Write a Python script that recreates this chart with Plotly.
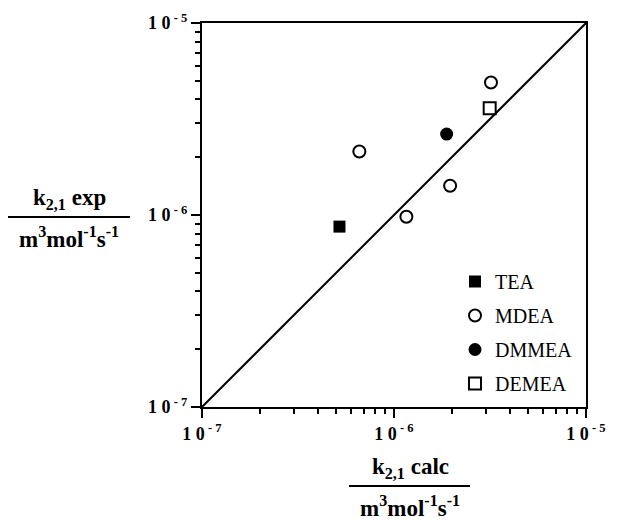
import plotly.graph_objects as go

# Data (k2,1 calc, k2,1 exp) in m3 mol-1 s-1
tea_x = [5.2e-7]
tea_y = [8.7e-7]
mdea_x = [6.6e-7, 1.16e-6, 1.96e-6, 3.2e-6]
mdea_y = [2.14e-6, 9.8e-7, 1.42e-6, 4.9e-6]
dmmea_x = [1.88e-6]
dmmea_y = [2.64e-6]
demea_x = [3.15e-6]
demea_y = [3.6e-6]
parity = [1e-7, 1e-5]

major_vals = [1e-7, 1e-6, 1e-5]
major_text = ["<b>1 0</b><sup><b> - 7</b></sup>", "<b>1 0</b><sup><b> - 6</b></sup>", "<b>1 0</b><sup><b> - 5</b></sup>"]
minor_vals = [m * 10.0 ** e for e in (-7, -6) for m in range(2, 10)]

FONT = "Liberation Serif"

fig = go.Figure()
fig.add_trace(go.Scatter(x=parity, y=parity, mode="lines", line=dict(color="black", width=2),
                         showlegend=False, hoverinfo="skip"))
fig.add_trace(go.Scatter(x=tea_x, y=tea_y, mode="markers", name="TEA", legendgroup="a",
                         marker=dict(symbol="square", size=12, color="black")))
fig.add_trace(go.Scatter(x=mdea_x, y=mdea_y, mode="markers", name="MDEA", legendgroup="b",
                         marker=dict(symbol="circle-open", size=12, color="black", line=dict(width=2))))
fig.add_trace(go.Scatter(x=dmmea_x, y=dmmea_y, mode="markers", name="DMMEA", legendgroup="c",
                         marker=dict(symbol="circle", size=13, color="black")))
fig.add_trace(go.Scatter(x=demea_x, y=demea_y, mode="markers", name="DEMEA", legendgroup="d",
                         marker=dict(symbol="square-open", size=12, color="black", line=dict(width=2))))

L, R, T, B = 202, 31, 23, 113
W, H = 617, 520
pw, ph = W - L - R, H - T - B


def px(xp):
    return (xp - L) / pw


def py(yp):
    return (H - B - yp) / ph


axis_common = dict(
    type="log", range=[-7, -5], showgrid=False, zeroline=False,
    showline=True, linecolor="black", linewidth=2, mirror=True,
    ticks="outside", ticklen=9, tickwidth=2, tickcolor="black",
    tickmode="array", tickvals=major_vals, ticktext=major_text,
    tickfont=dict(family=FONT, size=18, color="black"),
    minor=dict(ticks="outside", ticklen=5, tickwidth=2, tickcolor="black", tickvals=minor_vals),
)
fig.update_xaxes(**axis_common)
fig.update_yaxes(**axis_common)

tfont = dict(family=FONT, size=23, color="black")
ann = [
    dict(x=px(69), y=py(215), text="<b>k<sub>2,1</sub> exp</b>", yanchor="bottom"),
    dict(x=px(69), y=py(221), text="<b>m<sup>3</sup>mol<sup>-1</sup>s<sup>-1</sup></b>", yanchor="top"),
    dict(x=px(410), y=py(484), text="<b>k<sub>2,1</sub> calc</b>", yanchor="bottom"),
    dict(x=px(410), y=py(490), text="<b>m<sup>3</sup>mol<sup>-1</sup>s<sup>-1</sup></b>", yanchor="top"),
]
for a in ann:
    fig.add_annotation(xref="paper", yref="paper", showarrow=False, xanchor="center",
                       font=tfont, **a)

fig.add_shape(type="line", xref="paper", yref="paper", x0=px(8), x1=px(130), y0=py(217), y1=py(217),
              line=dict(color="black", width=2))
fig.add_shape(type="line", xref="paper", yref="paper", x0=px(349), x1=px(470), y0=py(486), y1=py(486),
              line=dict(color="black", width=2))

fig.update_layout(
    width=W, height=H, margin=dict(l=L, r=R, t=T, b=B),
    paper_bgcolor="white", plot_bgcolor="white",
    showlegend=True,
    legend=dict(x=px(455), y=py(262), xanchor="left", yanchor="top",
                font=dict(family=FONT, size=20, color="black"),
                bgcolor="rgba(0,0,0,0)", traceorder="grouped", tracegroupgap=5,
                itemwidth=30),
)

fig.write_html("out.html")
